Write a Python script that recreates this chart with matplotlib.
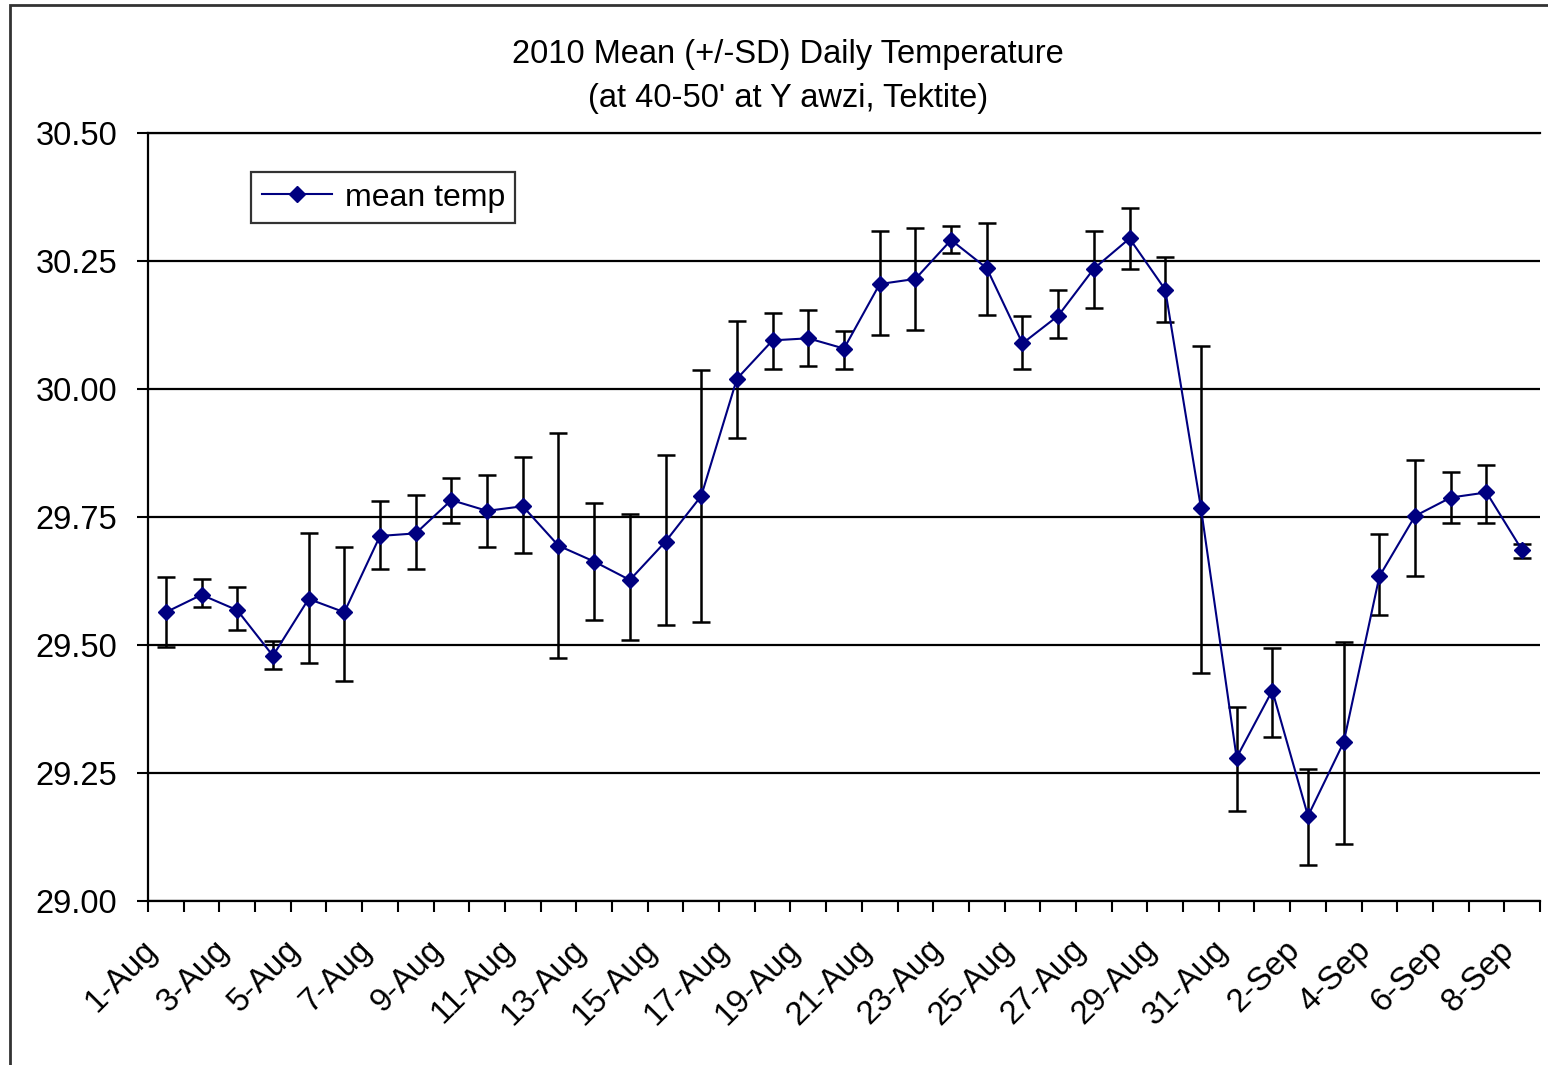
import matplotlib
matplotlib.use("Agg")
import matplotlib.pyplot as plt
from matplotlib.patches import Rectangle
import matplotlib.transforms as mtransforms
import numpy as np

plt.rcParams['font.family'] = ['Liberation Sans', 'DejaVu Sans']

dates = (["%d-Aug" % d for d in range(1, 32)] +
         ["%d-Sep" % d for d in range(1, 9)])

mean_temp = [29.564, 29.598, 29.568, 29.479, 29.590, 29.564, 29.713, 29.718,
             29.783, 29.762, 29.771, 29.694, 29.663, 29.627, 29.702, 29.791,
             30.020, 30.095, 30.099, 30.079, 30.205, 30.215, 30.291, 30.236,
             30.089, 30.143, 30.235, 30.294, 30.194, 29.768, 29.280, 29.411,
             29.166, 29.310, 29.634, 29.752, 29.788, 29.798, 29.685]

err_upper = [29.632, 29.628, 29.613, 29.507, 29.718, 29.692, 29.782, 29.792,
             29.826, 29.832, 29.867, 29.915, 29.777, 29.755, 29.871, 30.038,
             30.133, 30.148, 30.155, 30.113, 30.309, 30.315, 30.319, 30.325,
             30.143, 30.194, 30.309, 30.354, 30.257, 30.084, 29.378, 29.495,
             29.258, 29.505, 29.717, 29.862, 29.837, 29.852, 29.697]

err_lower = [29.497, 29.574, 29.529, 29.454, 29.465, 29.430, 29.648, 29.648,
             29.738, 29.692, 29.679, 29.474, 29.549, 29.510, 29.539, 29.545,
             29.904, 30.039, 30.044, 30.039, 30.105, 30.115, 30.266, 30.144,
             30.039, 30.100, 30.159, 30.234, 30.130, 29.445, 29.176, 29.320,
             29.071, 29.111, 29.559, 29.634, 29.739, 29.739, 29.669]

y_ticks = [29.00, 29.25, 29.50, 29.75, 30.00, 30.25, 30.50]

W, H = 1548, 1065
FS = 23.5
fig = plt.figure(figsize=(W / 100, H / 100), dpi=100)

# outer chart frame
fig.patches.append(Rectangle((10 / W, -0.01), 1.02, 1 - 5 / H + 0.01,
                             transform=fig.transFigure, fill=False,
                             edgecolor='#333333', linewidth=2))

ax = fig.add_axes([148 / W, 1 - 901 / H, (1540 - 148) / W, (901 - 133) / H])

x = np.arange(len(dates))
m = np.array(mean_temp)
lo = m - np.array(err_lower)
hi = np.array(err_upper) - m

ax.errorbar(x, m, yerr=[lo, hi], fmt='none', ecolor='black', elinewidth=1.8,
            capsize=6.5, capthick=1.8, zorder=3)
ax.plot(x, m, color='#000080', linewidth=1.5, marker='D', markersize=8,
        markerfacecolor='#000080', markeredgecolor='#000080', zorder=4,
        label='mean temp')

ax.set_xlim(-0.5, len(dates) - 0.5)
ax.set_ylim(29.0, 30.5)
ax.set_yticks(y_ticks)
ax.set_yticklabels(["%.2f" % v for v in y_ticks], fontsize=FS)
ax.yaxis.grid(True, color='black', linewidth=1.6)
ax.set_axisbelow(True)

ax.set_xticks(np.arange(len(dates) + 1) - 0.5)
ax.set_xticklabels([])
ax.tick_params(axis='x', which='major', length=8, width=1.5, direction='out')
ax.tick_params(axis='y', length=8, width=1.5, direction='out', pad=14)

# rotated category labels (every second day)
offset = mtransforms.ScaledTranslation(-24 / 100, -33 / 100, fig.dpi_scale_trans)
trans = ax.get_xaxis_transform() + offset
for xi, lab in zip(x[::2], dates[::2]):
    ax.text(xi, 0, lab, transform=trans, rotation=45, ha='right', va='top',
            rotation_mode='anchor', fontsize=FS, clip_on=False)

ax.spines['right'].set_visible(False)
for s in ['left', 'bottom', 'top']:
    ax.spines[s].set_linewidth(1.6)

leg = ax.legend(loc='upper left', bbox_to_anchor=((251 - 148) / (1540 - 148),
                (901 - 172) / (901 - 133)), fontsize=23, frameon=True,
                fancybox=False, edgecolor='black', handlelength=2.2,
                borderpad=0.33, handletextpad=0.4, borderaxespad=0)
leg.get_frame().set_linewidth(1.6)

fig.text(788 / W, 1 - 55 / H, "2010 Mean (+/-SD) Daily Temperature",
         ha='center', va='center', fontsize=FS)
fig.text(788 / W, 1 - 98 / H, "(at 40-50' at Y awzi, Tektite)",
         ha='center', va='center', fontsize=FS)

fig.savefig("out.png", dpi=100)
